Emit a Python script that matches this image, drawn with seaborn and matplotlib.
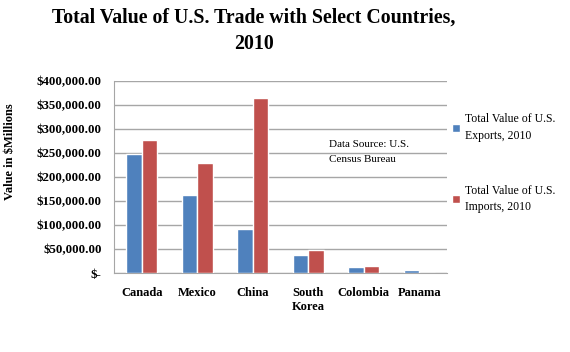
import matplotlib
matplotlib.use("Agg")
import matplotlib.pyplot as plt
import seaborn as sns
import pandas as pd
from matplotlib.patches import Patch

countries = ["Canada", "Mexico", "China", "South\nKorea", "Colombia", "Panama"]
exports = [248000, 163000, 91900, 38800, 12000, 6100]
imports = [277000, 229000, 364000, 48900, 15900, 400]
series_names = ["Total Value of U.S.\nExports, 2010", "Total Value of U.S.\nImports, 2010"]
y_ticks = [0, 50000, 100000, 150000, 200000, 250000, 300000, 350000, 400000]
y_labels = ["$-", "$50,000.00", "$100,000.00", "$150,000.00", "$200,000.00",
            "$250,000.00", "$300,000.00", "$350,000.00", "$400,000.00"]
colors = ["#4F81BD", "#C0504D"]


def main():
    df = pd.DataFrame({
        "country": countries * 2,
        "value": exports + imports,
        "series": [series_names[0]] * len(countries) + [series_names[1]] * len(countries),
    })

    sns.set_style("white")
    plt.rcParams["font.family"] = ["Liberation Serif", "DejaVu Serif"]
    plt.rcParams["text.color"] = "black"
    plt.rcParams["axes.labelcolor"] = "black"
    plt.rcParams["xtick.color"] = "black"
    plt.rcParams["ytick.color"] = "black"

    fig = plt.figure(figsize=(5.7, 3.52), dpi=100)
    ax = fig.add_axes([0.2, 0.224, 0.584, 0.546])

    sns.barplot(
        data=df, x="country", y="value", hue="series",
        palette=colors, width=0.56,
        saturation=1, ax=ax, legend=False, zorder=3,
    )

    ax.set_ylim(0, 400000)
    ax.set_yticks(y_ticks)
    ax.set_yticklabels(y_labels, fontsize=9.3, fontweight="bold")
    ax.yaxis.grid(True, color="#a6a6a6", linewidth=1)
    ax.set_axisbelow(True)
    ax.tick_params(axis="y", length=5, color="#a6a6a6", pad=4)
    ax.tick_params(axis="x", length=0, pad=10, labelsize=9)
    for lbl in ax.get_xticklabels():
        lbl.set_fontweight("bold")
    for side in ["top", "right"]:
        ax.spines[side].set_visible(False)
    for side in ["left", "bottom"]:
        ax.spines[side].set_color("#a6a6a6")
    ax.set_xlabel("")
    ax.set_ylabel("Value in $Millions", fontsize=9, fontweight="bold")
    ax.yaxis.set_label_coords(-0.294, 0.633)

    fig.text(0.445, 0.912, "Total Value of U.S. Trade with Select Countries,\n2010",
             ha="center", va="center", fontsize=14.3, fontweight="bold",
             linespacing=1.4)

    ax.text(0.645, 0.63, "Data Source: U.S.\nCensus Bureau", transform=ax.transAxes,
            fontsize=8, va="center", ha="left", linespacing=1.75)

    # legend at the right side
    handles = [Patch(facecolor=c) for c in colors]
    fig.legend(handles, series_names, loc="upper left",
               bbox_to_anchor=(0.785, 0.692), frameon=False, fontsize=8.5,
               handlelength=0.7, handleheight=0.7, handletextpad=0.4,
               labelspacing=3.65, borderaxespad=0)
    for t in fig.legends[0].get_texts():
        t.set_linespacing(1.5)

    fig.savefig("out.png", dpi=100)


if __name__ == "__main__":
    main()
